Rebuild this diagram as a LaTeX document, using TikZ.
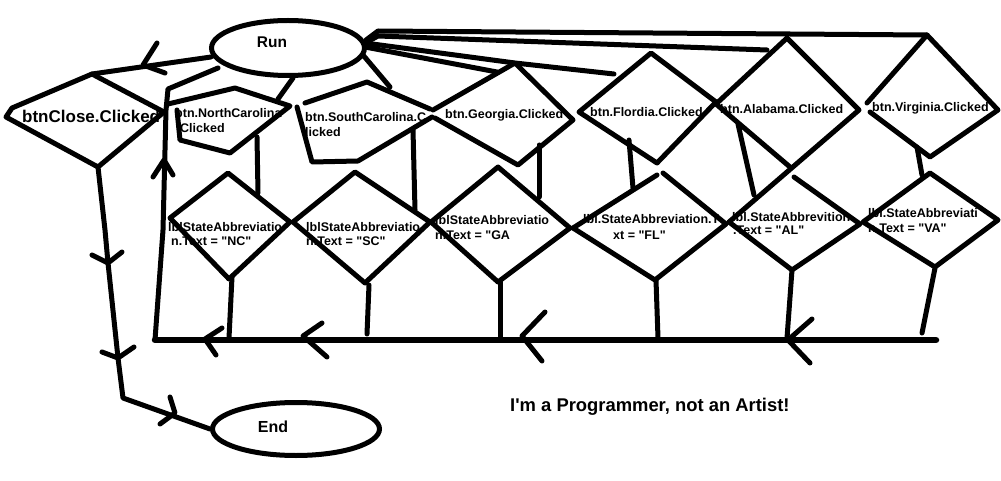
\documentclass[tikz,border=0pt]{standalone}
\usepackage{fontspec}
\setmainfont{Liberation Sans}[Ligatures=TeXOff]
\usetikzlibrary{shapes.geometric}
\begin{document}
\begin{tikzpicture}[x=1pt,y=-1pt,
  pen/.style={line width=5pt,line cap=round,line join=round},
  heavy/.style={line width=6.5pt,line cap=round,line join=round},
  oval/.style={ellipse,draw,line width=5pt,inner sep=0pt},
  small/.style={font=\bfseries\fontsize{12.5}{14}\selectfont,anchor=base west,inner sep=0pt},
  big/.style={font=\bfseries\fontsize{17}{19}\selectfont,anchor=base west,inner sep=0pt},
  title/.style={font=\bfseries\fontsize{16}{18}\selectfont,anchor=base,inner sep=0pt}]
\fill[white] (0,0) rectangle (1001,481);
\useasboundingbox (0,0) rectangle (1001,481);

% ---------- texts (lines are drawn over them, as in the sketch)
\node[big]   (tclose) at (22,123) {btnClose.Clicked};
\node[small] (tnc1) at (175,117.5) {btn.NorthCarolina};
\node[small] (tnc2) at (180,132.5) {Clicked};
\node[small] (tsc1) at (305,121.5) {btn.SouthCarolina.C};
\node[small] (tsc2) at (305,136.5) {licked};
\node[small] (tga) at (445,118.5) {btn.Georgia.Clicked};
\node[small] (tfl) at (590,116.5) {btn.Flordia.Clicked};
\node[small] (tal) at (720,113.5) {btn.Alabama.Clicked};
\node[small] (tva) at (872,111.5) {btn.Virginia.Clicked};
\node[small] (lnc1) at (168,231.5) {lblStateAbbreviatio};
\node[small] (lnc2) at (171,245.5) {n.Text = "NC"};
\node[small] (lsc1) at (306,231.5) {lblStateAbbreviatio};
\node[small] (lsc2) at (306,245.5) {n.Text = "SC"};
\node[small] (lga1) at (435,224.5) {lblStateAbbreviatio};
\node[small] (lga2) at (435,239.5) {n.Text = "GA};
\node[small] (lfl1) at (583,223.5) {lbl.StateAbbreviation.T};
\node[small] (lfl2) at (613,239.5) {xt = "FL"};
\node[small] (lal1) at (732,221.5) {lbl.StateAbbrevition};
\node[small] (lal2) at (733,234.5) {.Text = "AL"};
\node[small] (lva1) at (868,217.5) {lbl.StateAbbreviati};
\node[small] (lva2) at (868,232.5) {n.Text = "VA"};
\node[font=\bfseries\fontsize{18.4}{20}\selectfont,anchor=base west,inner sep=0pt] (note) at (510,411.6) {I'm a Programmer, not an Artist!};

% ---------- terminals
\node[oval,minimum width=153pt,minimum height=55pt] (run) at (288,48) {};
\node[title,font=\bfseries\fontsize{15.5}{18}\selectfont] (runt) at (272,47.5) {Run};
\node[oval,minimum width=167pt,minimum height=53pt] (end) at (296,429) {};
\node[title] (endt) at (273,432) {End};

% ---------- named points
\coordinate (closeT) at (92,74);
\coordinate (closeB) at (98,167);
\coordinate (loopBL) at (155,340);
\coordinate (loopBR) at (936,340);
\coordinate (fanA) at (378,31);
\coordinate (fanB) at (378,36);
\coordinate (vaT) at (927,35);
\coordinate (alT) at (787,38);
\coordinate (gaT) at (515,63);
\coordinate (flT) at (651,53);

% ---------- decision diamonds (buttons)
\draw[pen] (closeT) -- (164,112) -- (closeB) -- (6,117) -- (12,108) -- cycle;
\draw[pen] (168,104) -- (235,88) -- (290,106) -- (230,153) -- (180,140) -- (177,110);
\draw[pen] (305,103) -- (367,82) -- (430,109);
\draw[pen] (297,107) -- (312,162) -- (358,161) -- (432,117);
\draw[pen] (433,110) -- (gaT) -- (573,120) -- (518,165) -- (435,118);
\draw[pen] (flT) -- (716,102) -- (657,163) -- (579,112) -- cycle;
\draw[pen] (alT) -- (859,110) -- (729,222);
\draw[pen] (alT) -- (716,104) -- (790,167);
\draw[pen] (867,103) -- (vaT) -- (998,110) -- (930,157) -- (870,112);

% ---------- process diamonds (labels)
\draw[pen] (228,173) -- (290,222) -- (229,279) -- (170,218) -- cycle;
\draw[pen] (355,172) -- (430,222) -- (365,283) -- (293,222) -- cycle;
\draw[pen] (498,167) -- (570,228) -- (498,282) -- (431,222) -- cycle;
\draw[pen] (573,228) -- (657,175);
\draw[pen] (663,173) -- (726,224) -- (655,280) -- (573,228);
\draw[pen] (794,177) -- (860,224) -- (792,270) -- (729,222);
\draw[pen] (930,173) -- (998,220) -- (935,267) -- (863,222) -- cycle;

% ---------- connectors from Run
\draw[pen] (211,57) -- (closeT);
\draw[pen] (157,43) -- (143,65) -- (165,73);
\draw[pen] (293,78) -- (278,99);
\draw[pen] (363,55) -- (390,87);
\draw[pen] (366,40) -- (fanA) -- (vaT);
\draw[pen] (367,42) -- (fanB) -- (767,50);
\draw[pen] (365,43) -- (gaT) -- (614,74);
\draw[pen] (365,47) -- (497,72);

% ---------- button -> label connectors
\draw[pen] (257,137) -- (258,193);
\draw[pen] (413,130) -- (415,210);
\draw[pen] (539,145) -- (539,197);
\draw[pen] (629,140) -- (633,188);
\draw[pen] (738,124) -- (754,195);
\draw[pen] (917,147) -- (922,175);

% ---------- label -> return line
\draw[pen] (232,277) -- (229,338);
\draw[pen] (369,285) -- (367,334);
\draw[pen] (500,282) -- (500,338);
\draw[pen] (656,280) -- (658,338);
\draw[pen] (792,270) -- (787,338);
\draw[pen] (935,268) -- (922,333);

% ---------- return loop
\draw[heavy] (loopBR) -- (loopBL);
\draw[pen] (loopBL) -- (163,230) -- (166,110) -- (168,89) -- (218,68);
\draw[pen] (153,177) -- (164,160) -- (173,175);
\draw[pen] (222,328) -- (205,339) -- (216,355);
\draw[pen] (322,323) -- (303,336) -- (327,357);
\draw[pen] (545,312) -- (522,336) -- (542,361);
\draw[pen] (812,319) -- (788,340) -- (810,363);

% ---------- close -> End
\draw[pen] (closeB) -- (105,230) -- (108,263) -- (118,358) -- (123,398) -- (end.west);
\draw[pen] (92,255) -- (108,263) -- (122,252);
\draw[pen] (102,352) -- (118,358) -- (134,347);
\draw[pen] (170,397) -- (175,413) -- (160,424);
\end{tikzpicture}
\end{document}
